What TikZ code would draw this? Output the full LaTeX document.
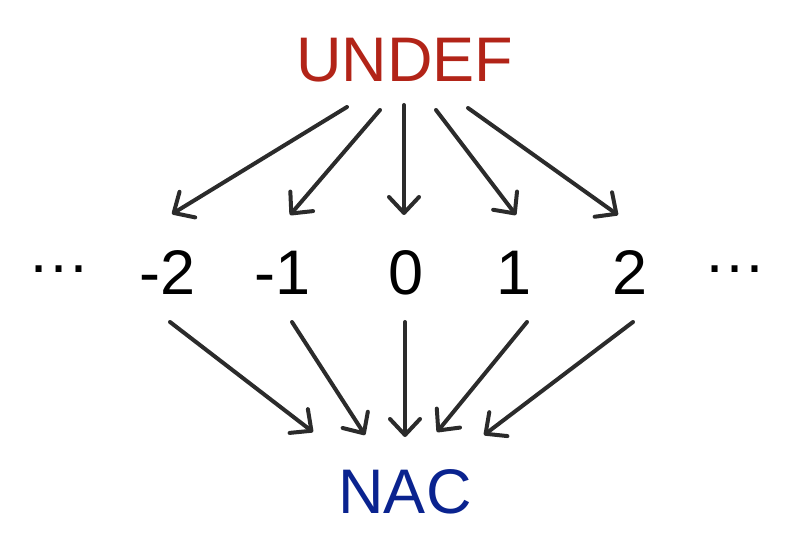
\documentclass[tikz,border=0pt]{standalone}
\usepackage{fontspec}
\setmainfont{Liberation Sans}
\usetikzlibrary{arrows.meta}
\definecolor{undefred}{HTML}{B22418}
\definecolor{nacblue}{HTML}{0A238F}
\definecolor{arr}{HTML}{2B2B2B}
\begin{document}
\begin{tikzpicture}[x=1pt,y=-1pt,
  lbl/.style={inner sep=0pt,font=\fontsize{63}{63}\selectfont},
  link/.style={draw=arr,line width=4pt,line cap=round,
    -{Straight Barb[length=16pt,width=30pt,line width=4pt,round]}}]
\useasboundingbox (0,0) rectangle (788,540);
\node[lbl,text=undefred] (U) at (405,60) {UNDEF};
\node[lbl] (dl) at (59,276) {\raisebox{0.22em}{…}};
\node[lbl] (m2) at (168,273) {-2};
\node[lbl] (m1) at (283,273) {-1};
\node[lbl] (z) at (406,273) {0};
\node[lbl] (p1) at (514,273) {1};
\node[lbl] (p2) at (630,273) {2};
\node[lbl] (dr) at (735,276) {\raisebox{0.22em}{…}};
\node[lbl,text=nacblue] (N) at (405,492) {NAC};
% top arrow endpoints
\coordinate (a1) at (347,107); \coordinate (b1) at (172,214);
\coordinate (a2) at (380,110); \coordinate (b2) at (290,215);
\coordinate (a3) at (404,105); \coordinate (b3) at (404,215);
\coordinate (a4) at (436,110); \coordinate (b4) at (516,215);
\coordinate (a5) at (468,108); \coordinate (b5) at (618,215);
% bottom arrow endpoints
\coordinate (c1) at (170,322); \coordinate (d1) at (313,432);
\coordinate (c2) at (292,322); \coordinate (d2) at (365,435);
\coordinate (c3) at (405,322); \coordinate (d3) at (405,437);
\coordinate (c4) at (527,322); \coordinate (d4) at (437,432);
\coordinate (c5) at (633,322); \coordinate (d5) at (484,435);
\foreach \i in {1,...,5}{
  \draw[link] (a\i) -- (b\i);
  \draw[link] (c\i) -- (d\i);
}
\end{tikzpicture}
\end{document}
